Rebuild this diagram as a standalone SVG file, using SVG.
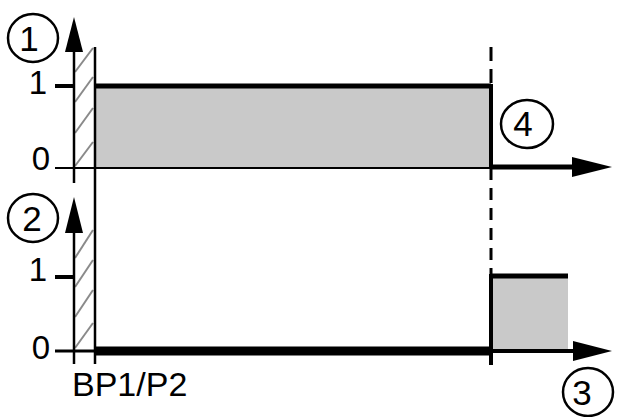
<svg xmlns="http://www.w3.org/2000/svg" width="618" height="417" viewBox="0 0 618 417">
<style>
  .ln{stroke:#000;fill:none;stroke-linecap:butt}
  .hatch{stroke:#8a8a8a;stroke-width:2;fill:none}
  .fill{fill:#c9c9c9;stroke:none}
  .circ{fill:none;stroke:#000;stroke-width:2.5}
  .num{font-family:"Liberation Sans",Arial,sans-serif;font-size:35px;fill:#000;text-anchor:middle}
  .lab{font-family:"Liberation Sans",Arial,sans-serif;font-size:33px;fill:#000;text-anchor:end}
  .bp{font-family:"Liberation Sans",Arial,sans-serif;font-size:34px;fill:#000}
  .ah{fill:#000;stroke:none}
</style>
<rect width="618" height="417" fill="#fff"/>

<g id="signal1">
  <rect class="fill" x="95" y="86" width="396" height="82"/>
  <line class="ln" x1="95" y1="86" x2="491" y2="86" stroke-width="5"/>
  <line class="ln" x1="491" y1="84" x2="491" y2="168" stroke-width="4"/>
</g>

<g id="signal2">
  <rect class="fill" x="491" y="276" width="77" height="75"/>
  <line class="ln" x1="491" y1="276" x2="568" y2="276" stroke-width="5"/>
  <line class="ln" x1="95" y1="351" x2="491" y2="351" stroke-width="9"/>
</g>

<g id="hatch">
  <line class="hatch" x1="75" y1="72" x2="93" y2="48"/>
  <line class="hatch" x1="75" y1="102" x2="93" y2="77"/>
  <line class="hatch" x1="75" y1="133" x2="93" y2="108"/>
  <line class="hatch" x1="75" y1="166" x2="93" y2="142"/>
  <line class="hatch" x1="75" y1="258" x2="93" y2="230"/>
  <line class="hatch" x1="75" y1="287" x2="93" y2="260"/>
  <line class="hatch" x1="75" y1="317" x2="93" y2="290"/>
  <line class="hatch" x1="75" y1="348" x2="93" y2="323"/>
</g>

<g id="connectors">
  <!-- graph 1 axes -->
  <line class="ln" x1="74" y1="48" x2="74" y2="183" stroke-width="2.5"/>
  <polygon class="ah" points="74,17 65,52 83,52"/>
  <line class="ln" x1="55" y1="86" x2="74" y2="86" stroke-width="4"/>
  <line class="ln" x1="55" y1="168" x2="491" y2="168" stroke-width="2"/>
  <line class="ln" x1="491" y1="167" x2="576" y2="167" stroke-width="5"/>
  <polygon class="ah" points="612,167 572,157 572,177"/>
  <!-- graph 2 axes -->
  <line class="ln" x1="74" y1="230" x2="74" y2="364" stroke-width="2.5"/>
  <polygon class="ah" points="74,197 65,233 83,233"/>
  <line class="ln" x1="55" y1="277" x2="74" y2="277" stroke-width="4"/>
  <line class="ln" x1="55" y1="351" x2="95" y2="351" stroke-width="3"/>
  <line class="ln" x1="491" y1="351" x2="577" y2="351" stroke-width="4"/>
  <polygon class="ah" points="612,351 573,341 573,361"/>
  <!-- boundary lines -->
  <line class="ln" x1="95" y1="47" x2="95" y2="364" stroke-width="2.5"/>
  <line class="ln" x1="491" y1="47" x2="491" y2="84" stroke-width="3" stroke-dasharray="14 8"/>
  <line class="ln" x1="491" y1="168" x2="491" y2="276" stroke-width="3" stroke-dasharray="12 8"/>
  <line class="ln" x1="491" y1="274" x2="491" y2="365" stroke-width="4"/>
</g>

<g id="labels">
  <text class="lab" x="47" y="94">1</text>
  <text class="lab" x="50" y="170">0</text>
  <text class="lab" x="47" y="281">1</text>
  <text class="lab" x="50" y="359">0</text>
  <text class="bp" x="72" y="396">BP1/P2</text>
</g>

<g id="node1">
  <ellipse class="circ" cx="33" cy="38" rx="25" ry="24"/>
  <text class="num" x="29" y="51">1</text>
</g>
<g id="node2">
  <ellipse class="circ" cx="33" cy="218" rx="25" ry="24"/>
  <text class="num" x="32" y="231">2</text>
</g>
<g id="node3">
  <ellipse class="circ" cx="588" cy="392" rx="25" ry="24"/>
  <text class="num" x="582" y="405">3</text>
</g>
<g id="node4">
  <ellipse class="circ" cx="527" cy="124" rx="26" ry="24"/>
  <text class="num" x="523" y="136">4</text>
</g>
</svg>
